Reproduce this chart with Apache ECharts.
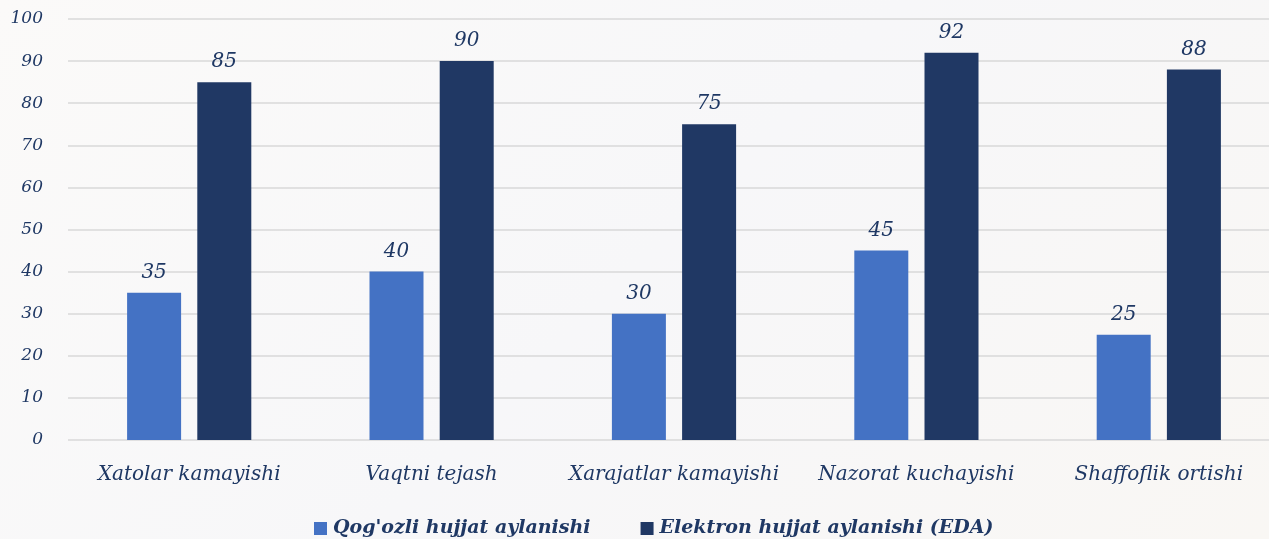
<!DOCTYPE html>
<html lang="uz">
<head>
    <meta charset="UTF-8" />
    <title>Qog'ozli va elektron hujjat aylanishi</title>
    <script src="https://cdn.jsdelivr.net/npm/echarts@6/dist/echarts.min.js"></script>
    <style>
        html, body { margin: 0; padding: 0; }
        body { background: linear-gradient(135deg, #fbfaf9 0%, #f7f7f9 50%, #f9f7f4 100%); }
    </style>
</head>
<body>
<div id="main" style="width: 1269px; height: 539px;"></div>
<script type="text/javascript">
    // chart data
    var categories = ['Xatolar kamayishi', 'Vaqtni tejash', 'Xarajatlar kamayishi', 'Nazorat kuchayishi', 'Shaffoflik ortishi'];
    var paperValues = [35, 40, 30, 45, 25];
    var edaValues = [85, 90, 75, 92, 88];
    var seriesNames = ["Qog'ozli hujjat aylanishi", 'Elektron hujjat aylanishi (EDA)'];

    var textColor = '#1f3864';
    var fontFam = '"DejaVu Serif", serif';

    var myChart = echarts.init(document.getElementById('main'));
    var option = {
        backgroundColor: 'transparent',
        color: ['#4472c4', '#203864'],
        grid: {
            left: 68,
            right: -11,
            top: 19,
            bottom: 99,
            outerBoundsMode: 'none'
        },
        legend: {
            top: 514,
            left: 309,
            itemWidth: 13,
            itemHeight: 13,
            itemGap: 50,
            icon: 'rect',
            textStyle: {
                color: textColor,
                fontFamily: fontFam,
                fontStyle: 'italic',
                fontWeight: 'bold',
                fontSize: 19,
                padding: [0, 0, 0, 1]
            },
            data: seriesNames
        },
        xAxis: {
            type: 'category',
            data: categories,
            axisLine: { show: false },
            axisTick: { show: false },
            axisLabel: {
                interval: 0,
                margin: 25,
                color: textColor,
                fontFamily: fontFam,
                fontStyle: 'italic',
                fontSize: 20
            }
        },
        yAxis: {
            type: 'value',
            min: 0,
            max: 100,
            interval: 10,
            axisLine: { show: false },
            axisTick: { show: false },
            splitLine: { lineStyle: { color: '#d9d9d9', width: 1.5 } },
            axisLabel: {
                margin: 25,
                color: textColor,
                fontFamily: fontFam,
                fontStyle: 'italic',
                fontSize: 17
            }
        },
        series: [
            {
                name: seriesNames[0],
                type: 'bar',
                barWidth: 54,
                barGap: '30%',
                data: paperValues,
                label: {
                    show: true,
                    position: 'top',
                    distance: 10,
                    color: textColor,
                    fontFamily: fontFam,
                    fontStyle: 'italic',
                    fontSize: 20
                }
            },
            {
                name: seriesNames[1],
                type: 'bar',
                barWidth: 54,
                barGap: '30%',
                data: edaValues,
                label: {
                    show: true,
                    position: 'top',
                    distance: 10,
                    color: textColor,
                    fontFamily: fontFam,
                    fontStyle: 'italic',
                    fontSize: 20
                }
            }
        ]
    };
    myChart.setOption(option);
</script>
</body>
</html>
